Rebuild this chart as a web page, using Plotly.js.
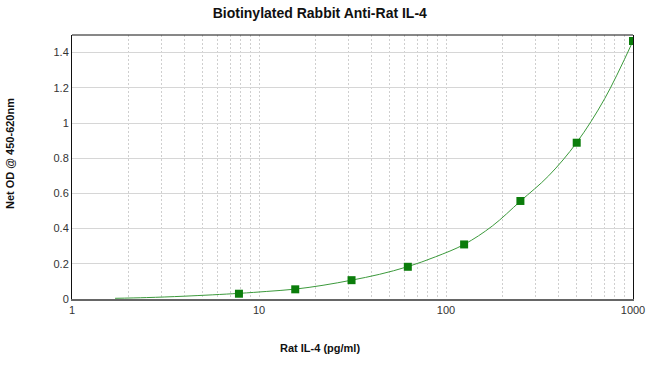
<!DOCTYPE html>
<html><head><meta charset="utf-8">
<script src="https://cdn.plot.ly/plotly-3.0.1.min.js"></script>
<style>html,body{margin:0;padding:0;background:#fff}#chart{width:650px;height:373px}</style>
</head><body><div id="chart"></div>
<script>
// Standard points
var conc = [7.8125, 15.625, 31.25, 62.5, 125, 250, 500, 1000];
var od   = [0.030, 0.055, 0.107, 0.183, 0.310, 0.557, 0.888, 1.466];
// Fitted curve
var curveX = [1.7, 2.5, 4, 7.8, 11, 15.6, 22, 31.25, 44, 62.5, 88, 125, 177, 250, 354, 500, 707, 1000];
var curveY = [0.004, 0.008, 0.016, 0.032, 0.043, 0.056, 0.078, 0.107, 0.140, 0.184, 0.240, 0.310, 0.415, 0.556, 0.700, 0.889, 1.140, 1.466];
var xTicks = [1, 10, 100, 1000];
var yTicks = [0, 0.2, 0.4, 0.6, 0.8, 1, 1.2, 1.4];

var font = 'Liberation Sans, Arial, sans-serif';
var traces = [
  {x: curveX, y: curveY, mode: 'lines', line: {color: '#3c9a3c', width: 1, shape: 'spline'}, hoverinfo: 'skip'},
  {x: conc, y: od, mode: 'markers', marker: {symbol: 'square', color: '#0b7d0b', size: 8}}
];
var layout = {
  width: 650, height: 373,
  margin: {l: 72, r: 17, t: 35, b: 74},
  showlegend: false,
  paper_bgcolor: '#fff', plot_bgcolor: '#fff',
  title: {text: '<b>Biotinylated Rabbit Anti-Rat IL-4</b>', font: {family: font, size: 14, color: '#111'}, x: 0.492, xanchor: 'center', y: 0.965, yanchor: 'middle'},
  xaxis: {
    type: 'log', range: [0, 3.0],
    tickvals: xTicks, ticktext: xTicks.map(String), ticks: '',
    tickfont: {family: font, size: 11, color: '#333'},
    showgrid: true, gridcolor: '#cfcfcf', griddash: '2px,2px', gridwidth: 1,
    minor: {dtick: 'D1', showgrid: true, gridcolor: '#cfcfcf', griddash: '2px,2px', gridwidth: 1, ticks: ''},
    showline: true, linecolor: '#666', linewidth: 2,
    zeroline: false
  },
  yaxis: {
    range: [0, 1.5], tickvals: yTicks, ticktext: ['0','0.2','0.4','0.6','0.8','1','1.2','1.4'], ticks: '',
    tickfont: {family: font, size: 11, color: '#333'},
    showgrid: true, gridcolor: '#d6d6d6', gridwidth: 1,
    showline: true, linecolor: '#111', linewidth: 1, mirror: true,
    zeroline: false
  },
  annotations: [
    {text: '<b>Rat IL-4 (pg/ml)</b>', xref: 'paper', yref: 'paper', x: (320 - 72) / 561, y: -(348 - 299) / 264, xanchor: 'center', yanchor: 'middle', showarrow: false, font: {family: font, size: 11, color: '#111'}},
    {text: '<b>Net OD @ 450-620nm</b>', xref: 'paper', yref: 'paper', x: (10 - 72) / 561, y: (299 - 154) / 264, xanchor: 'center', yanchor: 'middle', textangle: -90, showarrow: false, font: {family: font, size: 11, color: '#111'}}
  ],
  shapes: [{type: 'line', xref: 'paper', yref: 'paper', x0: 0, x1: 1, y0: 1, y1: 1, line: {color: '#111', width: 1}}]
};
Plotly.newPlot('chart', traces, layout, {staticPlot: true, displayModeBar: false});
</script></body></html>
